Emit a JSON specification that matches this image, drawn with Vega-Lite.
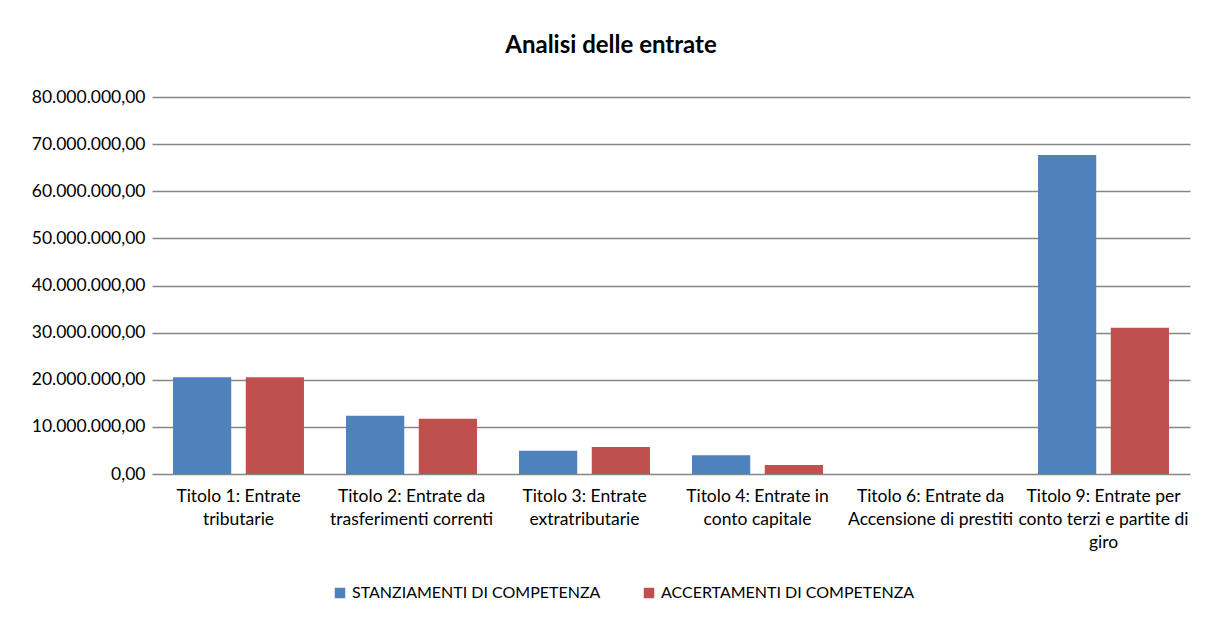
{
  "$schema": "https://vega.github.io/schema/vega-lite/v6.json",
  "autosize": "none",
  "padding": {"left": 152, "top": 97, "right": 17, "bottom": 146},
  "width": 1038,
  "height": 377,
  "background": "white",
  "title": {"text": "Analisi delle entrate", "font": "Lato", "fontSize": 24, "fontWeight": "bold", "color": "#000000", "anchor": "middle", "dx": -60, "offset": 30},
  "data": {
    "values": [
      {"cat": "Titolo 1", "label": "Titolo 1: Entrate|tributarie", "serie": "STANZIAMENTI DI COMPETENZA", "valore": 20550000},
      {"cat": "Titolo 1", "label": "Titolo 1: Entrate|tributarie", "serie": "ACCERTAMENTI DI COMPETENZA", "valore": 20550000},
      {"cat": "Titolo 2", "label": "Titolo 2: Entrate da|trasferimenti correnti", "serie": "STANZIAMENTI DI COMPETENZA", "valore": 12340000},
      {"cat": "Titolo 2", "label": "Titolo 2: Entrate da|trasferimenti correnti", "serie": "ACCERTAMENTI DI COMPETENZA", "valore": 11700000},
      {"cat": "Titolo 3", "label": "Titolo 3: Entrate|extratributarie", "serie": "STANZIAMENTI DI COMPETENZA", "valore": 4960000},
      {"cat": "Titolo 3", "label": "Titolo 3: Entrate|extratributarie", "serie": "ACCERTAMENTI DI COMPETENZA", "valore": 5740000},
      {"cat": "Titolo 4", "label": "Titolo 4: Entrate in|conto capitale", "serie": "STANZIAMENTI DI COMPETENZA", "valore": 3970000},
      {"cat": "Titolo 4", "label": "Titolo 4: Entrate in|conto capitale", "serie": "ACCERTAMENTI DI COMPETENZA", "valore": 1910000},
      {"cat": "Titolo 6", "label": "Titolo 6: Entrate da|Accensione di prestiti", "serie": "STANZIAMENTI DI COMPETENZA", "valore": 0},
      {"cat": "Titolo 6", "label": "Titolo 6: Entrate da|Accensione di prestiti", "serie": "ACCERTAMENTI DI COMPETENZA", "valore": 0},
      {"cat": "Titolo 9", "label": "Titolo 9: Entrate per|conto terzi e partite di|giro", "serie": "STANZIAMENTI DI COMPETENZA", "valore": 67700000},
      {"cat": "Titolo 9", "label": "Titolo 9: Entrate per|conto terzi e partite di|giro", "serie": "ACCERTAMENTI DI COMPETENZA", "valore": 31050000}
    ]
  },
  "mark": {"type": "bar"},
  "encoding": {
    "x": {
      "field": "label", "type": "nominal", "sort": null,
      "scale": {"paddingInner": 0.243, "paddingOuter": 0.1215},
      "axis": {"title": null, "labelAngle": 0, "labelExpr": "split(datum.label, '|')", "labelFont": "Lato", "labelFontSize": 17.5, "labelColor": "#000000", "labelPadding": 13, "labelLineHeight": 23, "ticks": false, "domain": false, "labelBaseline": "top", "labelLimit": 250, "labelOverlap": false}
    },
    "xOffset": {"field": "serie", "type": "nominal", "sort": ["STANZIAMENTI DI COMPETENZA", "ACCERTAMENTI DI COMPETENZA"], "scale": {"paddingInner": 0.2, "paddingOuter": 0}},
    "y": {
      "field": "valore", "type": "quantitative",
      "scale": {"domain": [0, 80000000], "nice": false},
      "axis": {"title": null, "format": ",.2f", "values": [0, 10000000, 20000000, 30000000, 40000000, 50000000, 60000000, 70000000, 80000000], "labelOverlap": false, "labelFont": "Lato", "labelFontSize": 17.5, "labelColor": "#000000", "labelPadding": 7, "ticks": false, "domain": false, "grid": true, "gridColor": "#868686", "gridWidth": 1.5}
    },
    "color": {
      "field": "serie", "type": "nominal",
      "sort": ["STANZIAMENTI DI COMPETENZA", "ACCERTAMENTI DI COMPETENZA"],
      "scale": {"domain": ["STANZIAMENTI DI COMPETENZA", "ACCERTAMENTI DI COMPETENZA"], "range": ["#4F81BD", "#C0504D"]},
      "legend": {"title": null, "orient": "none", "legendX": 180, "legendY": 488, "direction": "horizontal", "symbolType": "square", "symbolSize": 110, "symbolStrokeWidth": 0, "labelFont": "Lato", "labelFontSize": 16, "labelColor": "#000000", "labelLimit": 400, "columnPadding": 40, "labelOffset": 4}
    }
  },
  "config": {
    "locale": {"number": {"decimal": ",", "thousands": ".", "grouping": [3], "currency": ["€", ""]}},
    "view": {"stroke": null},
    "axis": {"gridCap": "butt"}
  }
}
